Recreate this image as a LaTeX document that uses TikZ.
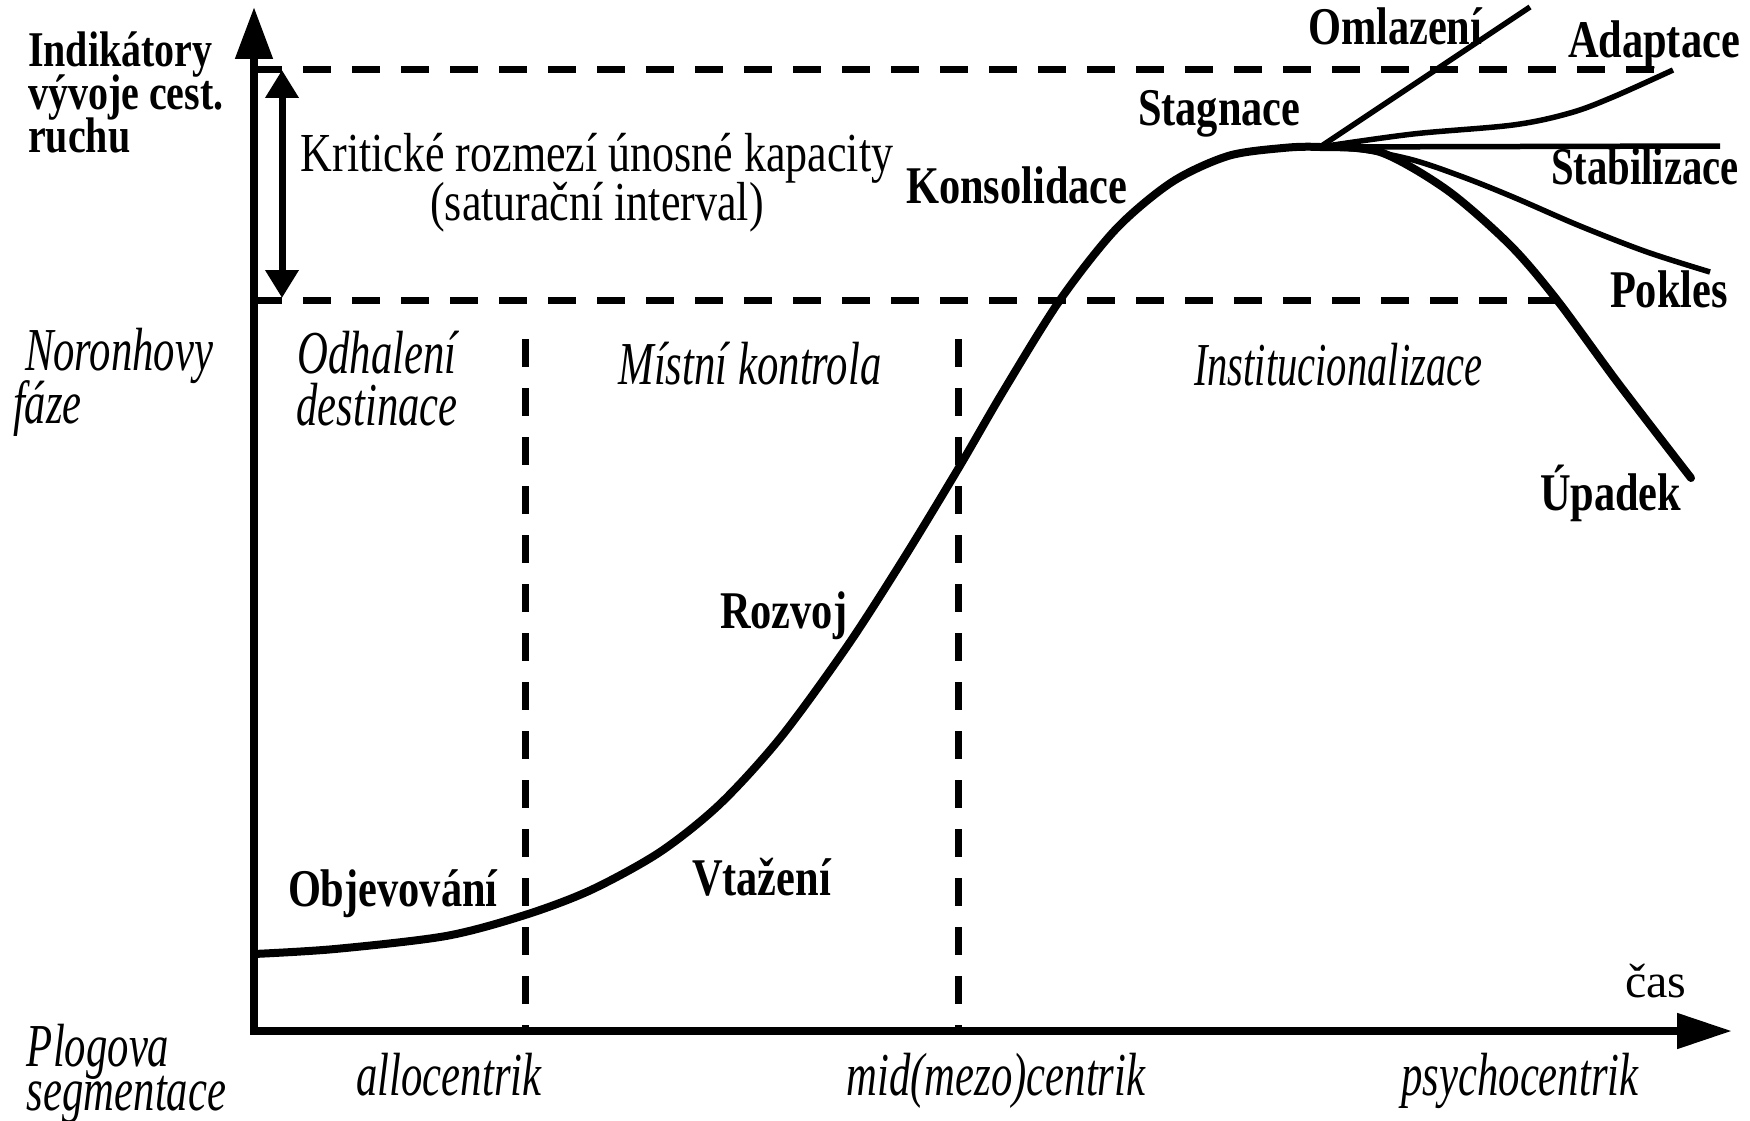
\documentclass[tikz,border=0pt]{standalone}
\usepackage{fontspec}
\setmainfont{Liberation Serif}
\newfontfamily\famB[FakeStretch=0.8]{Liberation Serif}
\newfontfamily\famI[FakeStretch=0.7]{Liberation Serif}
\newfontfamily\famR[FakeStretch=0.8]{Liberation Serif}
\usetikzlibrary{arrows.meta}
\newcommand\stackL[2]{\vtop{\baselineskip=#1\relax\lineskiplimit=-100pt\lineskip=0pt\halign{##\hfil\cr#2\crcr}}}
\newcommand\stackC[2]{\vtop{\baselineskip=#1\relax\lineskiplimit=-100pt\lineskip=0pt\halign{\hfil##\hfil\cr#2\crcr}}}
\begin{document}
\begin{tikzpicture}[x=1pt,y=-1pt,
  lbl/.style={inner sep=0pt,outer sep=0pt},
  stagebold/.style={lbl,anchor=base west,font=\famB\bfseries\fontsize{53}{53}\selectfont},
  noronha/.style={lbl,font=\famI\itshape\fontsize{61}{61}\selectfont},
  axisline/.style={line width=8pt,line join=miter,{Triangle[length=52pt,width=36pt]}-{Triangle[length=55pt,width=34pt]}},
  guide/.style={line width=7pt,dash pattern=on 28pt off 21pt},
  lifecurve/.style={line width=8pt,line cap=round,line join=round},
  branch/.style={line width=5.5pt},
  capacity/.style={line width=7pt,{Triangle[length=28pt,width=32pt]}-{Triangle[length=28pt,width=32pt]}},
]
\useasboundingbox[fill=white] (0,0) rectangle (1750,1121);

% axes
\coordinate (O) at (254,1031);
\coordinate (ytop) at (254,7);
\coordinate (xend) at (1732,1031);
\draw[axisline] (ytop) -- (O) -- (xend);

% guide lines
\coordinate (capT) at (254,70);
\coordinate (capTe) at (1662,70);
\coordinate (capB) at (254,300);
\coordinate (capBe) at (1573,300);
\draw[guide] (capT) -- (capTe);
\draw[guide] (capB) -- (capBe);
\coordinate (v1t) at (525,339);
\coordinate (v1b) at (525,1031);
\coordinate (v2t) at (958,339);
\coordinate (v2b) at (958,1031);
\draw[guide] (v1t) -- (v1b);
\draw[guide] (v2t) -- (v2b);

% capacity double arrow
\coordinate (caT) at (282,70);
\coordinate (caB) at (282,298);
\draw[capacity] (caT) -- (caB);

% life cycle curve
\coordinate (B) at (1320,147);
\draw[lifecurve] plot[smooth,tension=0.5] coordinates {
 (254,954) (335,949) (446,936) (525,915) (591,890) (660,852) (720,804)
 (781,737) (848,645) (904,558) (958,469) (1004,390) (1060,300) (1116,229)
 (1172,182) (1228,156) (1283,148) (1320,147) (1380,152) (1447,190)
 (1510,245) (1557,300) (1618,383) (1691,478)};

% branches
\coordinate (omE) at (1530,7);
\draw[branch] (B) -- (omE);
\draw[branch] plot[smooth,tension=0.55] coordinates {(1320,147) (1413,134) (1513,125) (1570,113) (1613,97) (1673,70)};
\coordinate (stE) at (1720,146);
\draw[branch] (B) -- (stE);
\draw[branch] plot[smooth,tension=0.55] coordinates {(1320,147) (1363,150) (1413,160) (1463,177) (1513,197) (1580,226) (1647,252) (1710,272)};

% texts
\node[lbl,anchor=base west,font=\famB\bfseries\fontsize{50}{43}\selectfont] (ind) at (28,67)
  {\stackL{43pt}{Indikátory\cr vývoje cest.\cr ruchu}};
\node[lbl,anchor=base,font=\famR\fontsize{55}{55}\selectfont] (krit) at (597,171)
  {\stackC{49pt}{Kritické rozmezí únosné kapacity\cr (saturační interval)}};

\node[noronha,anchor=base west] (nor) at (25,370) {\stackL{53pt}{Noronhovy\cr \kern-12pt fáze}};
\node[noronha,anchor=base] (odh) at (377,373) {\stackC{52pt}{Odhalení\cr destinace}};
\node[noronha,anchor=base] (mist) at (750,384) {Místní kontrola};
\node[noronha,anchor=base west] (inst) at (1194,385) {\scalebox{0.95}[1]{Institucionalizace}};

\node[noronha,anchor=base west] (plog) at (27,1066) {\stackL{44pt}{Plogova\cr segmentace}};
\node[noronha,anchor=base] (allo) at (449,1095) {allocentrik};
\node[noronha,anchor=base] (mid) at (996,1095) {mid(mezo)centrik};
\node[noronha,anchor=base] (psy) at (1520,1095) {psychocentrik};

\node[stagebold] (obj) at (288,906) {Objevování};
\node[stagebold] (vta) at (692,895) {Vtažení};
\node[stagebold] (roz) at (720,628) {Rozvoj};
\node[stagebold] (kon) at (906,203) {Konsolidace};
\node[stagebold] (sta) at (1138,126) {Stagnace};
\node[stagebold] (oml) at (1308,45) {Omlazení};
\node[stagebold] (ada) at (1568,58) {Adaptace};
\node[stagebold] (stb) at (1551,184) {\scalebox{0.96}[1]{Stabilizace}};
\node[stagebold] (pok) at (1610,307) {Pokles};
\node[stagebold] (upa) at (1540,510) {Úpadek};

\node[lbl,anchor=base west,font=\fontsize{48}{48}\selectfont] (cas) at (1625,997) {čas};
\end{tikzpicture}
\end{document}
